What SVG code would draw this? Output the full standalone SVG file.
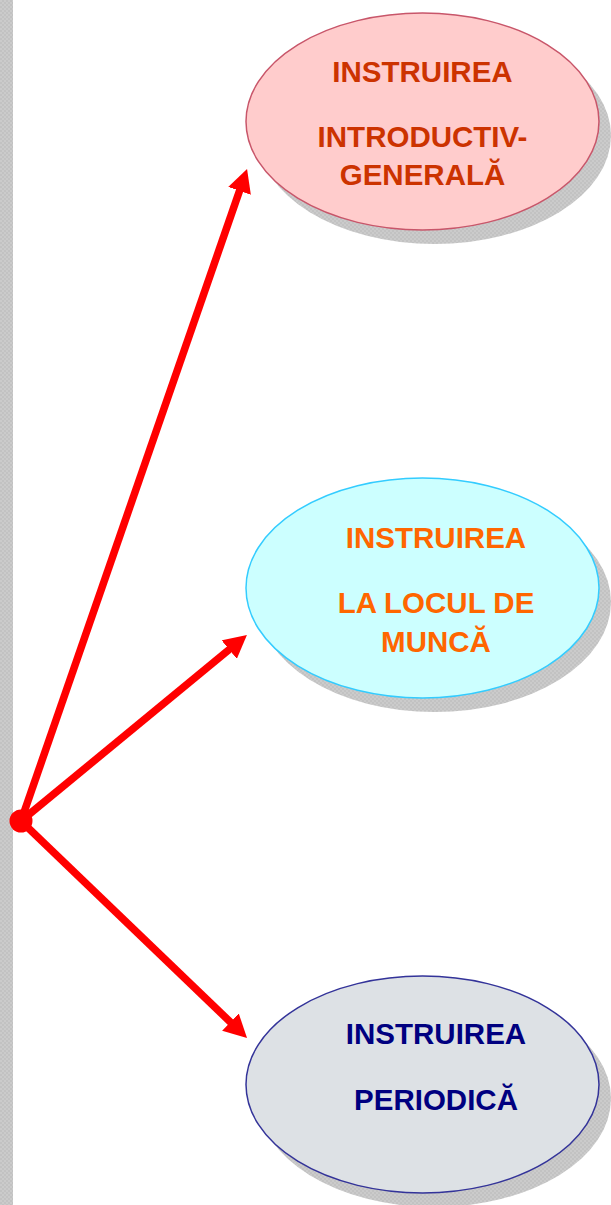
<svg xmlns="http://www.w3.org/2000/svg" width="611" height="1205" viewBox="0 0 611 1205">
  <defs>
    <pattern id="chk" width="4" height="4" patternUnits="userSpaceOnUse">
      <rect width="4" height="4" fill="#c2c2c2"/>
      <rect width="2" height="2" fill="#cbcbcb"/>
      <rect x="2" y="2" width="2" height="2" fill="#cbcbcb"/>
    </pattern>
    <marker id="ah" markerUnits="userSpaceOnUse" markerWidth="24" markerHeight="24" refX="3" refY="12" orient="auto">
      <path d="M0,0 L23,12 L0,24 z" fill="#ff0000"/>
    </marker>
  </defs>
  <style>
    .lbl { font-family: "Liberation Sans", Arial, sans-serif; font-weight: bold; font-size: 29.5px; text-anchor: middle; }
    .shadow { fill: url(#chk); }
    .conn { stroke: #ff0000; stroke-width: 7.5; fill: none; marker-end: url(#ah); }
  </style>
  <rect id="sidebar" x="0" y="0" width="13" height="1205" fill="url(#chk)"/>

  <g id="node-introductiv">
    <ellipse class="shadow" cx="434.5" cy="135.5" rx="176.5" ry="108.5"/>
    <ellipse cx="422.5" cy="121.5" rx="176.5" ry="108.5" fill="#ffcccc" stroke="#c8566a" stroke-width="1.5"/>
    <text class="lbl" fill="#cc3300" x="422.5" y="82">INSTRUIREA</text>
    <text class="lbl" fill="#cc3300" x="422.5" y="147">INTRODUCTIV-</text>
    <text class="lbl" fill="#cc3300" x="422.5" y="185">GENERALĂ</text>
  </g>

  <g id="node-locul">
    <ellipse class="shadow" cx="434.5" cy="602" rx="176.5" ry="110"/>
    <ellipse cx="422.5" cy="588" rx="176.5" ry="110" fill="#ccffff" stroke="#33ccff" stroke-width="1.5"/>
    <text class="lbl" fill="#ff6600" x="436" y="548">INSTRUIREA</text>
    <text class="lbl" fill="#ff6600" x="436" y="613">LA LOCUL DE</text>
    <text class="lbl" fill="#ff6600" x="436" y="652">MUNCĂ</text>
  </g>

  <g id="node-periodica">
    <ellipse class="shadow" cx="434.5" cy="1098.5" rx="176.5" ry="108.5"/>
    <ellipse cx="422.5" cy="1084.5" rx="176.5" ry="108.5" fill="#dde1e5" stroke="#333399" stroke-width="1.5"/>
    <text class="lbl" fill="#000080" x="436" y="1044">INSTRUIREA</text>
    <text class="lbl" fill="#000080" x="436" y="1110">PERIODICĂ</text>
  </g>

  <g id="connectors">
    <line class="conn" x1="21" y1="821" x2="240.5" y2="188"/>
    <line class="conn" x1="21" y1="821" x2="231.5" y2="647.7"/>
    <line class="conn" x1="21" y1="821" x2="232.6" y2="1024.2"/>
    <circle cx="21" cy="821" r="11.5" fill="#ff0000"/>
  </g>
</svg>
